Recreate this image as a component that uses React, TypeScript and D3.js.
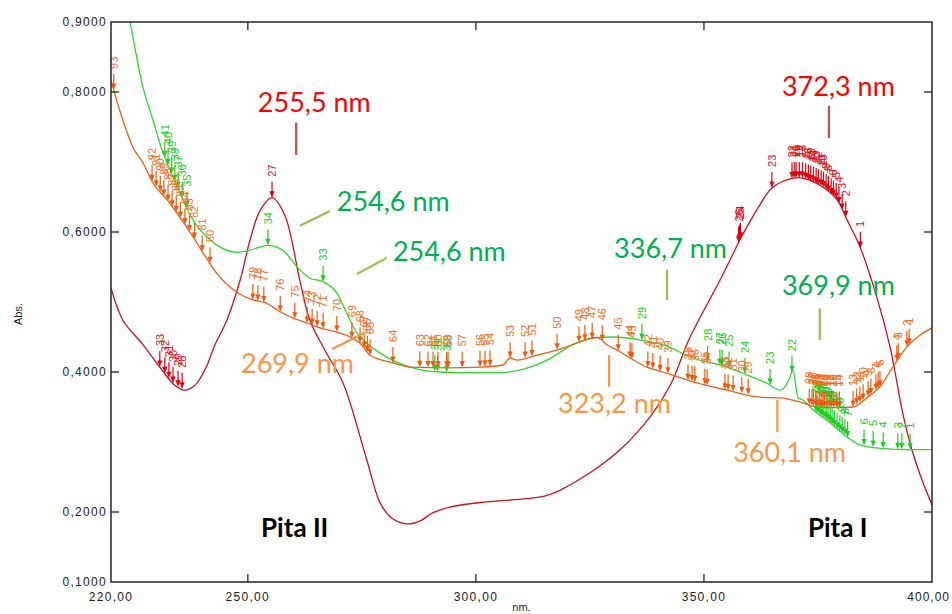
import React from "react";
import * as d3 from "d3";

// ---------- data ----------
const nmTicks = [220, 250, 300, 350, 400];
const absTicks = [0.1, 0.2, 0.4, 0.6, 0.8, 0.9];

const redNm = [220.0, 222.6, 227.0, 230.7, 234.0, 236.2, 238.4, 240.6, 242.8, 245.4, 248.3, 250.5, 252.7, 255.3, 258.1, 261.4, 263.6, 266.9, 270.9, 276.1, 279.0, 281.6, 284.9, 287.7, 290.6, 294.3, 301.6, 311.2, 315.2, 318.4, 325.0, 331.6, 338.2, 342.6, 346.9, 353.5, 357.9, 359.4, 362.3, 364.9, 369.5, 371.7, 376.1, 379.2, 381.4, 384.2, 387.9, 390.8, 393.6, 395.6, 397.8, 400.0];
const redAbs = [0.520, 0.474, 0.439, 0.407, 0.381, 0.374, 0.381, 0.403, 0.439, 0.474, 0.531, 0.589, 0.631, 0.649, 0.624, 0.531, 0.474, 0.431, 0.384, 0.274, 0.213, 0.191, 0.183, 0.187, 0.199, 0.207, 0.214, 0.219, 0.223, 0.231, 0.256, 0.289, 0.336, 0.381, 0.449, 0.531, 0.589, 0.607, 0.639, 0.663, 0.677, 0.677, 0.664, 0.646, 0.617, 0.579, 0.507, 0.436, 0.341, 0.289, 0.246, 0.210];

const greenNm = [220.0, 224.2, 227.0, 229.2, 231.4, 232.9, 235.1, 238.0, 241.7, 244.3, 247.6, 250.5, 254.4, 257.7, 260.8, 263.6, 266.5, 269.5, 271.7, 273.5, 275.3, 279.0, 285.6, 292.1, 297.2, 304.6, 309.7, 315.6, 321.3, 325.7, 330.1, 336.0, 341.0, 347.6, 355.1, 359.4, 363.8, 366.7, 368.9, 369.5, 370.6, 371.7, 373.9, 377.0, 381.4, 384.2, 388.6, 395.2, 400.0];
const greenAbs = [1.060, 0.900, 0.807, 0.760, 0.713, 0.689, 0.656, 0.617, 0.589, 0.577, 0.571, 0.574, 0.581, 0.574, 0.550, 0.534, 0.529, 0.513, 0.484, 0.460, 0.446, 0.427, 0.407, 0.400, 0.399, 0.399, 0.403, 0.417, 0.439, 0.449, 0.450, 0.446, 0.439, 0.420, 0.407, 0.396, 0.384, 0.374, 0.393, 0.403, 0.364, 0.360, 0.346, 0.331, 0.307, 0.296, 0.291, 0.289, 0.289];

const orangeNm = [220.0, 220.9, 222.6, 224.8, 227.0, 229.2, 232.3, 235.1, 238.0, 240.2, 243.2, 247.6, 251.1, 253.8, 257.1, 259.9, 263.0, 265.8, 269.5, 272.4, 274.6, 276.8, 281.8, 285.6, 293.7, 300.9, 305.9, 307.5, 309.0, 313.4, 319.1, 322.8, 326.6, 328.7, 331.6, 333.8, 337.5, 341.0, 347.6, 355.1, 362.3, 366.7, 371.1, 374.8, 379.2, 382.7, 385.7, 388.6, 391.4, 394.5, 397.4, 400.0];
const orangeAbs = [0.817, 0.796, 0.760, 0.721, 0.699, 0.670, 0.646, 0.621, 0.593, 0.570, 0.541, 0.514, 0.503, 0.499, 0.486, 0.477, 0.470, 0.463, 0.457, 0.450, 0.441, 0.424, 0.413, 0.407, 0.406, 0.407, 0.410, 0.420, 0.417, 0.424, 0.434, 0.443, 0.449, 0.439, 0.429, 0.420, 0.407, 0.400, 0.386, 0.374, 0.364, 0.363, 0.357, 0.350, 0.349, 0.350, 0.363, 0.379, 0.407, 0.436, 0.453, 0.463];

// peak-pick markers (wavelength, label)
const redPeakNm = [230.7, 231.8, 232.7, 233.6, 234.7, 235.6, 255.3, 357.6, 357.8, 358.0, 364.9, 369.3, 369.8, 370.2, 370.9, 371.6, 372.3, 372.9, 373.4, 374.0, 374.6, 375.1, 375.7, 376.2, 376.8, 377.3, 377.9, 378.4, 379.0, 379.6, 380.3, 381.1, 384.3];
const redPeakLabel = ["33", "32", "31", "30", "29", "28", "27", "26", "25", "24", "23", "22", "21", "20", "19", "18", "17", "16", "15", "14", "13", "12", "11", "10", "9", "8", "7", "6", "5", "4", "3", "2", "1"];

const orangePeakNm = [220.6, 229.0, 229.9, 230.8, 231.6, 232.5, 233.4, 234.3, 235.2, 236.2, 237.2, 238.3, 240.0, 241.7, 251.1, 252.2, 253.5, 257.1, 260.3, 263.0, 264.1, 265.2, 266.5, 269.5, 272.8, 274.6, 275.5, 276.2, 276.8, 281.8, 287.7, 289.5, 290.6, 291.7, 293.6, 293.9, 297.0, 300.9, 302.0, 303.1, 307.5, 310.8, 312.3, 317.8, 322.6, 323.9, 325.5, 327.7, 331.2, 333.8, 334.2, 337.7, 338.8, 340.4, 342.1, 346.5, 347.4, 348.0, 350.2, 350.7, 354.6, 355.3, 356.4, 358.3, 359.7, 373.1, 373.7, 374.0, 374.5, 374.8, 375.3, 375.7, 376.1, 376.4, 377.0, 377.6, 378.0, 378.4, 379.1, 379.7, 382.7, 383.5, 384.2, 384.9, 386.0, 386.6, 387.7, 388.2, 388.6, 392.3, 392.6, 394.5, 395.0];
const orangePeakLabel = ["93", "92", "91", "90", "89", "88", "87", "86", "85", "84", "83", "82", "81", "80", "79", "78", "77", "76", "75", "74", "73", "72", "71", "70", "69", "68", "67", "66", "65", "64", "63", "62", "61", "60", "59", "58", "57", "56", "55", "54", "53", "52", "51", "50", "49", "48", "47", "46", "45", "44", "43", "42", "41", "40", "39", "38", "37", "36", "35", "34", "33", "32", "31", "30", "29", "28", "27", "26", "25", "24", "23", "22", "21", "20", "19", "18", "17", "16", "15", "14", "13", "12", "11", "10", "9", "8", "7", "6", "5", "4", "3", "2", "1"];

const greenPeakNm = [231.8, 232.5, 233.3, 234.0, 234.7, 235.6, 236.7, 254.4, 266.5, 291.0, 291.6, 293.6, 336.4, 350.8, 353.5, 354.0, 355.5, 359.0, 364.5, 369.3, 374.6, 375.0, 375.5, 375.9, 376.3, 376.8, 377.2, 377.7, 378.1, 378.6, 379.2, 379.8, 380.3, 380.9, 381.5, 385.1, 387.1, 389.3, 392.5, 393.4, 395.2];
const greenPeakLabel = ["41", "40", "39", "38", "37", "36", "35", "34", "33", "32", "31", "30", "29", "28", "27", "26", "25", "24", "23", "22", "21", "20", "19", "18", "17", "16", "15", "14", "13", "12", "11", "10", "9", "8", "7", "6", "5", "4", "3", "2", "1"];

// callout annotations: text, text anchor (nm, abs), leader from/to (nm, abs)
const noteText = ["255,5 nm", "372,3 nm", "254,6 nm", "254,6 nm", "336,7 nm", "369,9 nm", "269,9 nm", "323,2 nm", "360,1 nm"];
const noteKind = ["red", "red", "green", "green", "green", "green", "orange", "orange", "orange"];
const noteAt = [[252.2, 0.771], [367.1, 0.794], [269.5, 0.630], [281.8, 0.559], [330.3, 0.563], [367.1, 0.510], [248.5, 0.399], [318.0, 0.341], [356.4, 0.271]];
const noteLeader = [
  [[260.6, 0.756], [260.6, 0.710]],
  [[377.4, 0.780], [377.4, 0.734]],
  [[261.4, 0.609], [268.0, 0.630]],
  [[273.9, 0.540], [280.5, 0.563]],
  [[341.9, 0.546], [341.9, 0.503]],
  [[375.4, 0.491], [375.4, 0.446]],
  [[268.5, 0.433], [275.9, 0.457]],
  [[329.2, 0.424], [329.2, 0.379]],
  [[366.1, 0.360], [366.1, 0.314]],
];
const sampleText = ["Pita II", "Pita I"];
const sampleAt = [[252.9, 0.164], [372.8, 0.164]];

// ---------- layout ----------
const W = 952, H = 614;
const L = 111, R = 932, T = 22, B = 582;
const x = d3.scaleLinear().domain([220, 400]).range([L, R]);
const y = d3.scaleLinear().domain([0.1, 0.9]).range([B, T]);

const COLORS: Record<string, { line: string; mark: string; label: string; note: string; leader: string }> = {
  red: { line: "#cc1020", mark: "#e00010", label: "#e01020", note: "#ff0000", leader: "#c0504d" },
  green: { line: "#2ed62e", mark: "#22cc22", label: "#22cc22", note: "#00b050", leader: "#9bbb59" },
  orange: { line: "#e4601a", mark: "#f05a10", label: "#f07028", note: "#f79646", leader: "#f79646" },
};

const fmtAbs = (v: number) => v.toFixed(4).replace(".", ",");
const fmtNm = (v: number) => v.toFixed(2).replace(".", ",");

function curvePath(nm: number[], ab: number[], smooth: boolean) {
  const pts = nm.map((n, i) => [n, ab[i]] as [number, number]);
  return (
    d3
      .line<[number, number]>()
      .x((d) => x(d[0]))
      .y((d) => y(d[1]))
      .curve(smooth ? d3.curveCatmullRom.alpha(0.5) : d3.curveMonotoneX)(pts) || ""
  );
}

function Markers({ nm, ab, peaks, labels, kind }: { nm: number[]; ab: number[]; peaks: number[]; labels: string[]; kind: string }) {
  const interp = d3.scaleLinear().domain(nm).range(ab);
  const c = COLORS[kind];
  return (
    <g>
      {peaks.map((p, i) => {
        const px = x(p);
        const py = y(interp(p));
        return (
          <g key={i}>
            <line x1={px} x2={px} y1={py - 16} y2={py - 5} stroke={c.mark} strokeWidth={1.2} />
            <path d={`M${px - 2.6},${py - 6.5}L${px + 2.6},${py - 6.5}L${px},${py}Z`} fill={c.mark} />
            <text
              transform={`translate(${px + 4},${py - 21}) rotate(-90)`}
              fontSize={11}
              fontFamily="'Liberation Sans', Arial, sans-serif"
              fill={c.label}
            >
              {labels[i]}
            </text>
          </g>
        );
      })}
    </g>
  );
}

export default function App() {
  const axisFont = "'Liberation Sans', Arial, sans-serif";
  const noteFont = "Lato, 'Open Sans', sans-serif";
  return (
    <svg width={W} height={H} style={{ position: "absolute", left: 0, top: 0, background: "#fff" }}>
      <defs>
        <clipPath id="plot">
          <rect x={L} y={T} width={R - L} height={B - T} />
        </clipPath>
      </defs>
      <rect x={0} y={0} width={W} height={H} fill="#fff" />

      {/* curves */}
      <g clipPath="url(#plot)" fill="none" strokeWidth={1.3}>
        <path d={curvePath(redNm, redAbs, true)} stroke={COLORS.red.line} />
        <path d={curvePath(greenNm, greenAbs, false)} stroke={COLORS.green.line} />
        <path d={curvePath(orangeNm, orangeAbs, false)} stroke={COLORS.orange.line} />
      </g>

      {/* peak markers */}
      <Markers nm={redNm} ab={redAbs} peaks={redPeakNm} labels={redPeakLabel} kind="red" />
      <Markers nm={greenNm} ab={greenAbs} peaks={greenPeakNm} labels={greenPeakLabel} kind="green" />
      <Markers nm={orangeNm} ab={orangeAbs} peaks={orangePeakNm} labels={orangePeakLabel} kind="orange" />

      {/* frame */}
      <rect x={L} y={T} width={R - L} height={B - T} fill="none" stroke="#333" strokeWidth={1.6} />

      {/* y ticks */}
      {absTicks.map((t) => (
        <g key={t}>
          {t > 0.1 && t < 0.9 && (
            <>
              <line x1={L} x2={L + 8} y1={y(t)} y2={y(t)} stroke="#333" strokeWidth={1.4} />
              <line x1={R - 8} x2={R} y1={y(t)} y2={y(t)} stroke="#333" strokeWidth={1.4} />
            </>
          )}
          <text x={L - 4} y={y(t) + 4.3} textAnchor="end" fontSize={12} letterSpacing={1.3} fontFamily={axisFont} fill="#222">
            {fmtAbs(t)}
          </text>
        </g>
      ))}

      {/* x ticks */}
      {nmTicks.map((t, i) => {
        const last = i === nmTicks.length - 1;
        return (
          <g key={t}>
            {t > 220 && t < 400 && (
              <>
                <line x1={x(t)} x2={x(t)} y1={B} y2={B - 8} stroke="#333" strokeWidth={1.4} />
                <line x1={x(t)} x2={x(t)} y1={T} y2={T + 8} stroke="#333" strokeWidth={1.4} />
              </>
            )}
            <text
              x={last ? W - 2 : x(t)}
              y={B + 19}
              textAnchor={last ? "end" : "middle"}
              fontSize={12}
              letterSpacing={last ? 1.0 : 1.3}
              fontFamily={axisFont}
              fill="#222"
            >
              {fmtNm(t)}
            </text>
          </g>
        );
      })}

      <text x={(L + R) / 2} y={B + 29} textAnchor="middle" fontSize={11} fontFamily={axisFont} fill="#222">
        nm.
      </text>
      <text transform={`translate(22,${(T + B) / 2 + 12}) rotate(-90)`} textAnchor="middle" fontSize={11} fontFamily={axisFont} fill="#222">
        Abs.
      </text>

      {/* callouts */}
      {noteText.map((t, i) => {
        const c = COLORS[noteKind[i]];
        const [a, b] = noteLeader[i];
        return (
          <g key={i}>
            <line x1={x(a[0])} y1={y(a[1])} x2={x(b[0])} y2={y(b[1])} stroke={c.leader} strokeWidth={2.2} />
            <text x={x(noteAt[i][0])} y={y(noteAt[i][1])} fontSize={27} fontFamily={noteFont} fill={c.note}>
              {t}
            </text>
          </g>
        );
      })}

      {sampleText.map((t, i) => (
        <text key={t} x={x(sampleAt[i][0])} y={y(sampleAt[i][1])} fontSize={26} fontWeight="bold" fontFamily={noteFont} fill="#000">
          {t}
        </text>
      ))}
    </svg>
  );
}
